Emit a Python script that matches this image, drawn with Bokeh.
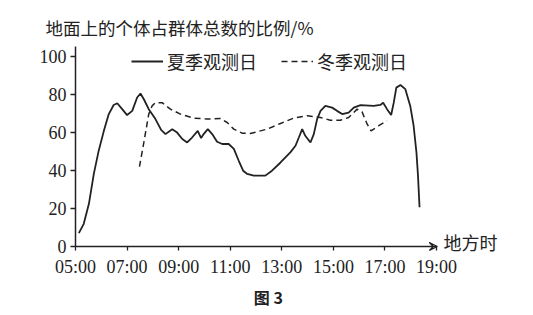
from bokeh.plotting import figure
from bokeh.models import (Range1d, FixedTicker, Label, Arrow, VeeHead, Legend, LegendItem)
from bokeh.embed import file_html
from bokeh.resources import INLINE

# Data (local time in hours, share in %)
summer_t = [5.13, 5.32, 5.52, 5.71, 5.90, 6.10, 6.29, 6.48, 6.62, 6.81, 7.00, 7.20, 7.39, 7.52,
            7.65, 7.84, 8.10, 8.32, 8.49, 8.75, 8.94, 9.14, 9.33, 9.52, 9.74, 9.87, 9.97, 10.13,
            10.30, 10.49, 10.69, 10.94, 11.14, 11.33, 11.50, 11.66, 11.91, 12.36, 12.62, 12.95,
            13.33, 13.53, 13.66, 13.79, 13.91, 14.11, 14.24, 14.37, 14.50, 14.69, 14.95, 15.14,
            15.34, 15.59, 15.79, 16.05, 16.56, 16.82, 16.93, 17.08, 17.24, 17.34, 17.44, 17.60,
            17.79, 17.98, 18.11, 18.22, 18.28, 18.34]
summer_v = [7.0, 11.9, 22.4, 38.1, 50.3, 60.7, 69.5, 74.3, 75.2, 72.1, 69.0, 71.2, 78.2, 80.3,
            77.3, 72.1, 66.9, 61.2, 59.0, 61.6, 59.8, 56.4, 54.6, 57.2, 60.7, 56.9, 59.0, 61.6,
            59.0, 55.0, 53.8, 53.8, 51.2, 45.0, 39.8, 38.1, 37.2, 37.2, 39.8, 44.1,
            49.4, 52.9, 57.2, 61.6, 58.1, 54.6, 59.0, 66.9, 71.2, 73.8, 72.9, 71.2,
            69.5, 70.3, 72.9, 74.2, 73.8, 74.3, 75.5, 72.1, 69.0, 75.5, 83.4, 84.8,
            82.6, 73.8, 63.4, 49.4, 37.2, 20.6]

winter_t = [7.48, 7.65, 7.84, 7.97, 8.10, 8.36, 8.68, 9.07, 9.59, 10.10, 10.62, 10.88, 11.14,
            11.46, 11.78, 12.17, 12.43, 12.95, 13.46, 13.98, 14.50, 14.88, 15.27, 15.59, 15.92,
            16.11, 16.31, 16.46, 16.76, 17.08]
winter_v = [41.9, 54.6, 69.5, 73.8, 75.5, 75.5, 72.1, 69.5, 67.4, 66.9, 67.2, 65.1, 61.6,
            59.5, 59.3, 60.7, 61.6, 64.6, 67.4, 68.6, 67.7, 66.3, 66.3, 67.7, 72.1,
            70.7, 64.2, 60.7, 63.4, 66.0]

x_ticks = [5, 7, 9, 11, 13, 15, 17, 19]
x_tick_labels = ["05:00", "07:00", "09:00", "11:00", "13:00", "15:00", "17:00", "19:00"]
y_ticks = [0, 20, 40, 60, 80, 100]

series_names = ["夏季观测日", "冬季观测日"]
title_text = "地面上的个体占群体总数的比例/%"
x_axis_name = "地方时"
figure_caption = "图 3"

INK = "#222222"
CJK = "Noto Sans CJK SC"
SERIF = "Liberation Serif"

# The plot frame covers the whole canvas; axes are pinned at x=5 / y=0 and bounded.
px_per_hour = 25.79
px_per_unit = 1.905
x0 = 5 - 75 / px_per_hour
y0 = -69 / px_per_unit
p = figure(width=533, height=315, output_backend="svg", toolbar_location=None,
           x_range=Range1d(x0, x0 + 533 / px_per_hour),
           y_range=Range1d(y0, y0 + 315 / px_per_unit),
           min_border=0)
p.outline_line_color = None
p.xgrid.visible = False
p.ygrid.visible = False
p.background_fill_color = "white"
p.border_fill_color = "white"

for ax in (p.xaxis[0], p.yaxis[0]):
    ax.axis_line_color = INK
    ax.axis_line_width = 1.5
    ax.major_tick_line_color = INK
    ax.major_tick_line_width = 1.3
    ax.minor_tick_line_color = None
    ax.major_tick_in = 0
    ax.major_label_text_font = SERIF
    ax.major_label_text_font_size = "18px"
    ax.major_label_text_color = INK

p.xaxis.fixed_location = 0
p.xaxis.bounds = (5, 19)
p.xaxis.ticker = FixedTicker(ticks=x_ticks)
p.xaxis.major_label_overrides = {t: l for t, l in zip(x_ticks, x_tick_labels)}
p.xaxis.major_tick_out = 4
p.xaxis.major_label_standoff = 6
p.yaxis.fixed_location = 5
p.yaxis.bounds = (0, 105)
p.yaxis.ticker = FixedTicker(ticks=y_ticks)
p.yaxis.major_tick_out = 5
p.yaxis.major_label_standoff = 4

r_s = p.line(summer_t, summer_v, line_color=INK, line_width=1.8)
r_w = p.line(winter_t, winter_v, line_color=INK, line_width=1.5, line_dash="6 4")

legend = Legend(items=[LegendItem(label=series_names[0], renderers=[r_s]),
                       LegendItem(label=series_names[1], renderers=[r_w])],
                orientation="horizontal", location=(131, 241),
                glyph_width=32, glyph_height=20, label_standoff=4, spacing=24,
                padding=0, margin=0, border_line_color=None, background_fill_alpha=0,
                label_text_font=CJK, label_text_font_size="18px", label_text_color=INK)
p.add_layout(legend, "center")

p.add_layout(Arrow(end=VeeHead(size=8, line_color=INK, line_width=1.3, fill_color=None),
                   x_start=18.8, y_start=0, x_end=19.03, y_end=0,
                   line_color=INK, line_width=1.5))

p.add_layout(Label(x=3.84, y=115.0, text=title_text, text_font=CJK, text_font_size="17.5px",
                   text_color=INK, text_baseline="middle"))
p.add_layout(Label(x=19.27, y=2.3, text=x_axis_name, text_font=CJK, text_font_size="18px",
                   text_color=INK, text_baseline="middle"))
p.add_layout(Label(x=12.48, y=-26.6, text=figure_caption, text_font=CJK, text_font_size="16px",
                   text_font_style="bold", text_color=INK, text_baseline="middle",
                   text_align="center"))

open("out.html", "w").write(file_html(p, INLINE))
